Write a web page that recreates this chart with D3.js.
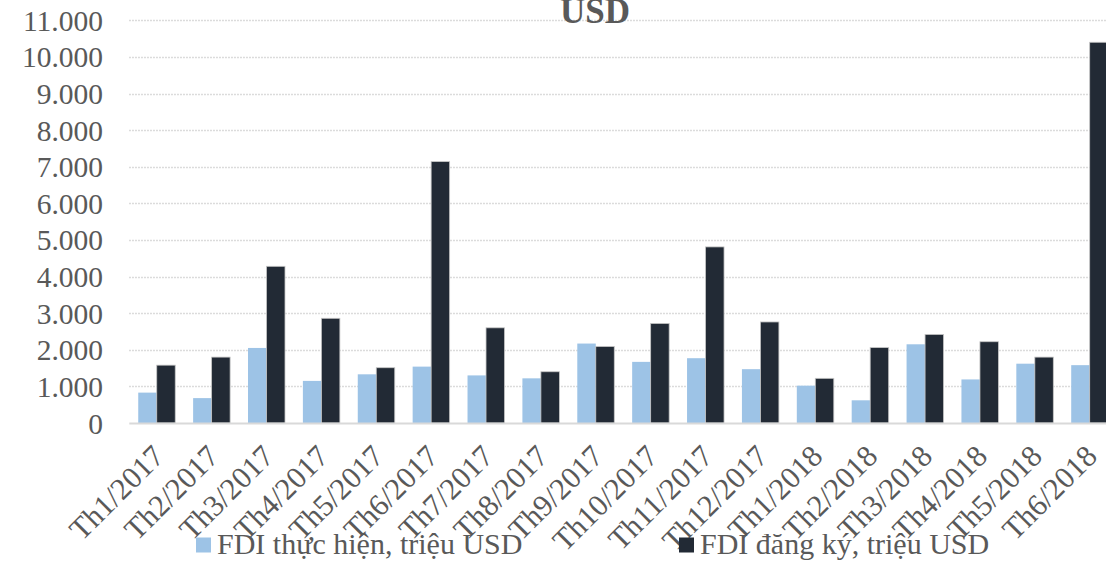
<!DOCTYPE html>
<html>
<head>
<meta charset="utf-8">
<script src="https://cdn.jsdelivr.net/npm/d3@7"></script>
<style>
  html, body { margin: 0; padding: 0; background: #ffffff; }
  svg { display: block; font-family: "Liberation Serif", "Times New Roman", serif; }
</style>
</head>
<body>
<svg id="chart" width="1106" height="564"></svg>
<script>
// Monthly FDI, million USD
const months = ["Th1/2017","Th2/2017","Th3/2017","Th4/2017","Th5/2017","Th6/2017",
                "Th7/2017","Th8/2017","Th9/2017","Th10/2017","Th11/2017","Th12/2017",
                "Th1/2018","Th2/2018","Th3/2018","Th4/2018","Th5/2018","Th6/2018"];
const disbursed  = [830, 680, 2050, 1150, 1330, 1540, 1300, 1220, 2170, 1670, 1770, 1470,
                    1020, 620, 2150, 1190, 1620, 1580];
const registered = [1580, 1800, 4280, 2860, 1510, 7140, 2600, 1400, 2090, 2720, 4810, 2760,
                    1220, 2060, 2420, 2220, 1800, 10400];
const seriesNames = ["FDI thực hiện, triệu USD", "FDI đăng ký, triệu USD"];
const yTicks = [0, 1000, 2000, 3000, 4000, 5000, 6000, 7000, 8000, 9000, 10000, 11000];
const titleText = "USD";

const colors = ["#9dc3e6", "#222a35"];
const textColor = "#595959";
const serif = "'Liberation Serif', 'Times New Roman', serif";

const svg = d3.select("#chart");

const plotLeft = 129.3, step = 54.88;
const plotRight = plotLeft + step * months.length;
const plotTop = 20.3, plotBottom = 423;

const x0 = d3.scaleBand()
  .domain(months)
  .range([plotLeft, plotRight])
  .paddingInner(0.326)
  .paddingOuter(0.163);

const x1 = d3.scaleBand()
  .domain([0, 1])
  .range([0, x0.bandwidth()]);

const y = d3.scaleLinear()
  .domain([0, 11000])
  .range([plotBottom, plotTop]);

// dotted horizontal gridlines
svg.append("g")
  .selectAll("line")
  .data(yTicks.filter(d => d > 0))
  .join("line")
  .attr("x1", plotLeft)
  .attr("x2", 1106)
  .attr("y1", d => Math.round(y(d)) + 0.5)
  .attr("y2", d => Math.round(y(d)) + 0.5)
  .attr("stroke", "#cdcdcd")
  .attr("stroke-width", 1.3)
  .attr("stroke-dasharray", "1.4 1.6");

// y axis labels
const yAxis = d3.axisLeft(y)
  .tickValues(yTicks)
  .tickSize(0)
  .tickPadding(0)
  .tickFormat(d => d3.format(",")(d).replace(/,/g, "."));

const yG = svg.append("g")
  .attr("transform", "translate(103,0)")
  .call(yAxis);
yG.select(".domain").remove();
yG.selectAll("text")
  .style("font-family", serif)
  .attr("font-size", 29.5)
  .attr("fill", textColor)
  .attr("dy", "0.34em");

// bars
const rows = months.map((m, i) => ({ month: m, values: [disbursed[i], registered[i]] }));

const groups = svg.append("g")
  .selectAll("g")
  .data(rows)
  .join("g")
  .attr("transform", d => `translate(${x0(d.month)},0)`);

groups.selectAll("rect")
  .data(d => d.values.map((v, k) => ({ k, v })))
  .join("rect")
  .attr("x", d => x1(d.k))
  .attr("width", x1.bandwidth())
  .attr("y", d => y(d.v))
  .attr("height", d => y(0) - y(d.v))
  .attr("fill", d => colors[d.k])
  .attr("stroke", d => d.k === 1 ? "#c6c6c6" : "none")
  .attr("stroke-width", 0.8);

// category axis baseline
svg.append("line")
  .attr("x1", plotLeft)
  .attr("x2", 1106)
  .attr("y1", y(0) + 0.5)
  .attr("y2", y(0) + 0.5)
  .attr("stroke", "#d9d9d9")
  .attr("stroke-width", 2);

// rotated month labels
const xAxis = d3.axisBottom(x0).tickSize(0).tickPadding(0);
const xG = svg.append("g")
  .attr("transform", `translate(0,${plotBottom})`)
  .call(xAxis);
xG.select(".domain").remove();
xG.selectAll("text")
  .style("font-family", serif)
  .attr("font-size", 30.5)
  .attr("fill", textColor)
  .attr("text-anchor", "end")
  .attr("dy", 0)
  .attr("transform", "translate(9,35) rotate(-45)");

// title (last line visible)
svg.append("text")
  .attr("x", 595)
  .attr("y", 22.7)
  .attr("text-anchor", "middle")
  .attr("font-weight", "bold")
  .attr("font-size", 35)
  .attr("fill", textColor)
  .text(titleText);

// legend
const legendItems = [
  { name: seriesNames[0], color: colors[0], sx: 196, tx: 217 },
  { name: seriesNames[1], color: colors[1], sx: 679, tx: 700 }
];
const legend = svg.append("g");
legendItems.forEach(it => {
  legend.append("rect")
    .attr("x", it.sx)
    .attr("y", 537.5)
    .attr("width", 15)
    .attr("height", 15)
    .attr("fill", it.color);
  legend.append("text")
    .attr("x", it.tx)
    .attr("y", 553.5)
    .attr("font-size", 30)
    .attr("fill", textColor)
    .text(it.name);
});
</script>
</body>
</html>
